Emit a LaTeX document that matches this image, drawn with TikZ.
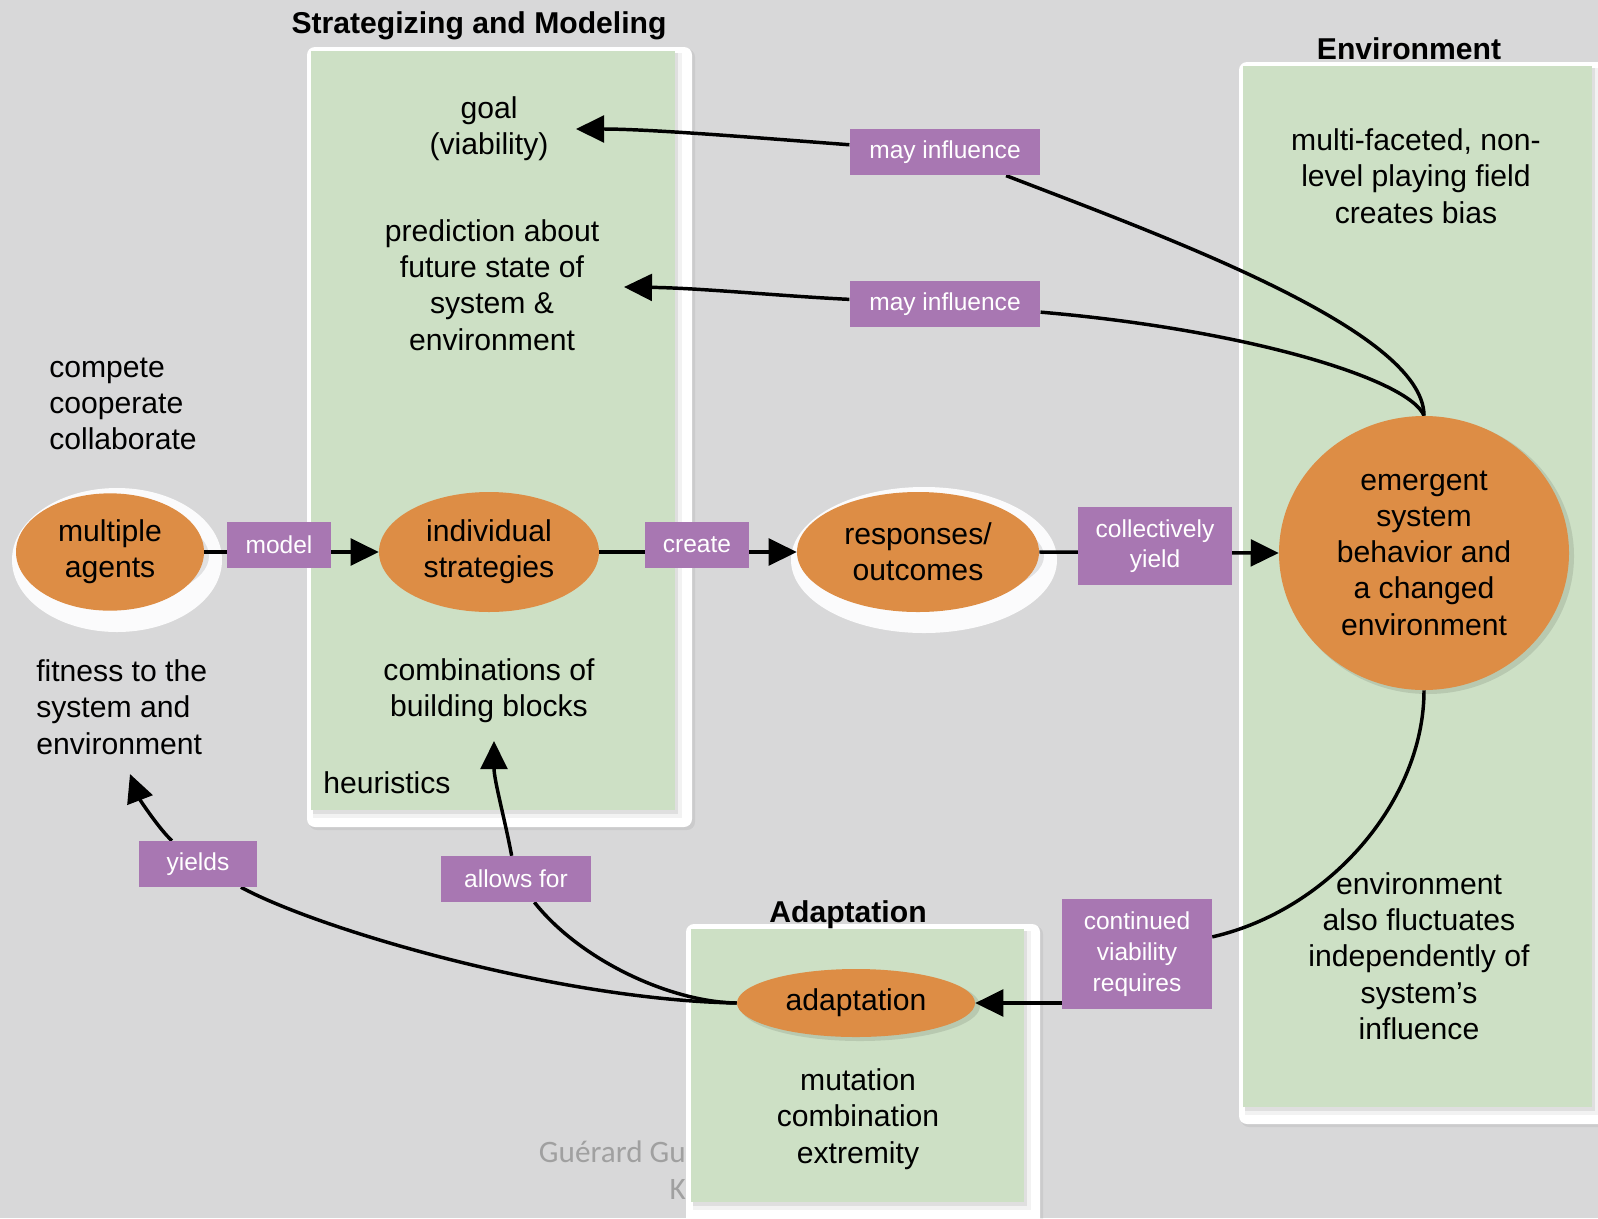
\documentclass[tikz,border=0pt]{standalone}
\usepackage{fontspec}
\setmainfont{Liberation Sans}
\newfontfamily\wmfont{Carlito}
\usetikzlibrary{arrows.meta}
\usetikzlibrary{shapes.geometric}

\pgfdeclarelayer{front}
\pgfsetlayers{main,front}

\newcommand\diagfont{\fontsize{22.6pt}{27.2pt}\selectfont}
\newcommand\labfont{\fontsize{18.4pt}{23pt}\selectfont}

\begin{document}
\begin{tikzpicture}[x=0.75pt,y=0.75pt,yscale=-1,xscale=1,
  frame/.style={fill=white, rounded corners=6pt},
  panel/.style={fill={rgb, 255:red, 205; green, 224; blue, 197 }},
  dim/.style={fill=black, fill opacity=#1},
  halo/.style={fill=white, fill opacity=0.92},
  blob/.style={ellipse, fill={rgb, 255:red, 221; green, 141; blue, 69 }, inner sep=0pt, align=center, font=\diagfont},
  tag/.style={fill={rgb, 255:red, 168; green, 119; blue, 178 }, text=white, font=\labfont, align=center, inner sep=0pt},
  note/.style={font=\diagfont, align=center, inner sep=0pt},
  heading/.style={font=\diagfont\bfseries, inner sep=0pt},
  wmark/.style={font=\wmfont\fontsize{23.4pt}{28pt}\selectfont, text={rgb, 255:red, 160; green, 160; blue, 160 }, inner sep=0pt},
  link/.style={draw=black, line width=2.6pt},
  tip/.style={-{Triangle[length=21pt,width=20pt]}}]
\useasboundingbox (0,0) rectangle (1598,1218);

%Shape: Rectangle
\fill [fill={rgb, 255:red, 216; green, 216; blue, 217 }] (0,0) rectangle (1598,1218);

% Text Node
\node [wmark, anchor=east] (wm1) at (686,1152) {Guérard Gu};
% Text Node
\node [wmark, anchor=east] (wm2) at (686,1189) {K};

%Shape: Rectangle
\fill [dim=0.06, rounded corners=6pt] (309,49) rectangle (695,830);
\fill [frame] (307,47) rectangle (692,827);
\fill [dim=0.05] (313,53) rectangle (682,818);
\fill [dim=0.08] (313,53) rectangle (678,814);
\fill [panel] (311,51) rectangle (675,810);
%Shape: Rectangle
\fill [dim=0.06, rounded corners=6pt] (1241,64) rectangle (1612,1127);
\fill [frame] (1239,62) rectangle (1612,1124);
\fill [dim=0.05] (1245,68) rectangle (1599,1115);
\fill [dim=0.08] (1245,68) rectangle (1595,1111);
\fill [panel] (1243,66) rectangle (1592,1107);
%Shape: Rectangle
\fill [dim=0.06, rounded corners=6pt] (688,926) rectangle (1043,1232);
\fill [frame] (686,924) rectangle (1040,1232);
\fill [dim=0.05] (693,931) rectangle (1031,1210);
\fill [dim=0.08] (693,931) rectangle (1027,1206);
\fill [panel] (691,929) rectangle (1024,1202);

%Shape: Ellipse
\fill [halo] (117,560) ellipse [x radius=105, y radius=72];
%Shape: Ellipse
\fill [halo] (924,560) ellipse [x radius=133, y radius=73];

%Shape: Ellipse
\fill [dim=0.10] (114,556) ellipse [x radius=95, y radius=45];
\fill [dim=0.10] (493,556) ellipse [x radius=83, y radius=46];
\fill [dim=0.10] (922,556) ellipse [x radius=122, y radius=46];
\fill [dim=0.10] (1428,556) ellipse [x radius=146, y radius=138];
\fill [dim=0.10] (860,1006) ellipse [x radius=120, y radius=35];

% Text Node
\node [heading] (smtitle) at (479,26) {Strategizing and Modeling};
% Text Node
\node [heading] (envtitle) at (1409,49) {Environment};
% Text Node
\node [heading] (adtitle) at (848,915) {Adaptation};

% Text Node
\node [note] (goal) at (489,129) {goal\\(viability)};
% Text Node
\node [note] (prediction) at (492,285) {prediction about\\future state of\\system \&\\environment};
% Text Node
\node [note] (blocks) at (489,691) {combinations of\\building blocks};
% Text Node
\node [note, anchor=west] (heuristics) at (323,783) {heuristics};
% Text Node
\node [note] (bias) at (1416,176) {multi-faceted, non-\\level playing field\\creates bias};
% Text Node
\node [note] (fluct) at (1419,956) {environment\\also fluctuates\\independently of\\system’s\\influence};
% Text Node
\node [note] (mutation) at (858,1119) {mutation\\combination\\extremity};
% Text Node
\node [note, anchor=west, align=left] (modes) at (49,404) {compete\\cooperate\\collaborate};
% Text Node
\node [note, anchor=west, align=left] (fitness) at (36,707) {fitness to the\\system and\\environment};

\begin{pgfonlayer}{front}
%Shape: Ellipse
\node [blob, minimum width=141pt, minimum height=88pt] (agents) at (110,552) {multiple\\agents};
%Shape: Ellipse
\node [blob, minimum width=165pt, minimum height=90pt] (strategies) at (489,552) {individual\\strategies};
%Shape: Ellipse
\node [blob, minimum width=181.5pt, minimum height=90pt] (responses) at (918,552) {responses/\\outcomes};
%Shape: Ellipse
\node [blob, minimum width=217.5pt, minimum height=205.5pt] (emergent) at (1424,553) {emergent\\system\\behavior and\\a changed\\environment};
%Shape: Ellipse
\node [blob, minimum width=178.5pt, minimum height=51pt] (adaptation) at (856,1003) {adaptation};

%Shape: Rectangle
\node [tag, minimum width=143pt, minimum height=35pt] (infl1) at (945,152) {may influence};
%Shape: Rectangle
\node [tag, minimum width=143pt, minimum height=35pt] (infl2) at (945,304) {may influence};
%Shape: Rectangle
\node [tag, minimum width=78pt, minimum height=34.5pt] (model) at (279,545) {model};
%Shape: Rectangle
\node [tag, minimum width=78pt, minimum height=34.5pt] (create) at (697,545) {create};
%Shape: Rectangle
\node [tag, minimum width=116pt, minimum height=58pt] (yield) at (1155,546) {collectively\\yield};
%Shape: Rectangle
\node [tag, minimum width=88.5pt, minimum height=34.5pt] (yields) at (198,864) {yields};
%Shape: Rectangle
\node [tag, minimum width=112.5pt, minimum height=34.5pt] (allows) at (516,879) {allows for};
%Shape: Rectangle
\node [tag, minimum width=112.5pt, minimum height=82pt] (cont) at (1137,954) {continued\\viability\\requires};
\end{pgfonlayer}

\coordinate (goaltip) at (576,129);
\coordinate (predtip) at (624,287);
\coordinate (blocktip) at (494,741);
\coordinate (fittip) at (130,774);

%Straight Lines
\draw [link, tip] (agents.east) -- (strategies.west);
%Straight Lines
\draw [link, tip] (strategies.east) -- (responses.west);
%Straight Lines
\draw [link, tip] (responses.east) -- (emergent.west);

%Curve Lines
\draw [link] (emergent.north) .. controls (1424,330) and (1160,235) .. (infl1);
\draw [link, tip] (infl1) .. controls (760,138) and (650,129) .. (goaltip);
%Curve Lines
\draw [link] (emergent.north) .. controls (1410,380) and (1250,330) .. (infl2);
\draw [link, tip] (infl2) .. controls (780,296) and (700,288) .. (predtip);
%Curve Lines
\draw [link] (emergent.south) .. controls (1424,800) and (1330,910) .. (cont);
\draw [link, tip] (cont.west |- adaptation.east) -- (adaptation.east);
%Curve Lines
\draw [link] (adaptation.west) .. controls (670,1002) and (580,960) .. (allows);
\draw [link, tip] (allows) .. controls (505,820) and (494,780) .. (blocktip);
%Curve Lines
\draw [link] (adaptation.west) .. controls (560,1000) and (320,930) .. (yields);
\draw [link, tip] (yields) .. controls (160,830) and (140,800) .. (fittip);

\end{tikzpicture}
\end{document}
